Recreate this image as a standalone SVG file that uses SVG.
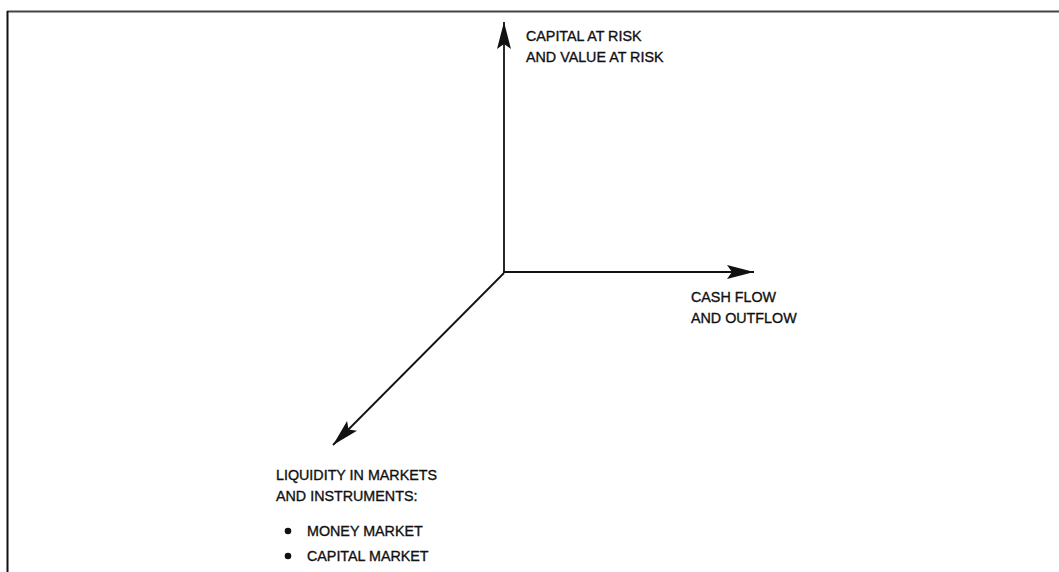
<svg xmlns="http://www.w3.org/2000/svg" width="1059" height="572" viewBox="0 0 1059 572">
<style>
.t{font-family:"Liberation Sans",Arial,sans-serif;font-size:14.3px;fill:#111;stroke:#111;stroke-width:0.35}
.ax{stroke:#111;stroke-width:1.8;fill:none}
</style>
<defs>
<marker id="ah" markerUnits="userSpaceOnUse" viewBox="-28 -8 29 16" markerWidth="29" markerHeight="16" refX="0" refY="0" orient="auto">
<path d="M0,0 L-27,-7 L-22,0 L-27,7 Z" fill="#111"/>
</marker>
</defs>
<rect width="1059" height="572" fill="#fff"/>
<g id="frame">
<line x1="7" y1="11.5" x2="1059" y2="11.5" stroke="#444" stroke-width="2"/>
<line x1="7.5" y1="11" x2="7.5" y2="572" stroke="#111" stroke-width="2"/>
</g>
<g id="connectors">
<line class="ax" x1="504" y1="273" x2="504" y2="22" marker-end="url(#ah)"/>
<line class="ax" x1="503" y1="272" x2="754" y2="272" marker-end="url(#ah)"/>
<line class="ax" x1="504" y1="273" x2="333" y2="445" marker-end="url(#ah)"/>
</g>
<g id="capital-at-risk">
<text class="t" x="526" y="41">CAPITAL AT RISK</text>
<text class="t" x="526" y="62">AND VALUE AT RISK</text>
</g>
<g id="cash-flow">
<text class="t" x="691" y="302">CASH FLOW</text>
<text class="t" x="691" y="323">AND OUTFLOW</text>
</g>
<g id="liquidity">
<text class="t" x="276" y="480">LIQUIDITY IN MARKETS</text>
<text class="t" x="276" y="501">AND INSTRUMENTS:</text>
<circle cx="288" cy="531" r="3.3" fill="#111"/>
<text class="t" x="307" y="536">MONEY MARKET</text>
<circle cx="288" cy="556" r="3.3" fill="#111"/>
<text class="t" x="307" y="561">CAPITAL MARKET</text>
</g>
</svg>
